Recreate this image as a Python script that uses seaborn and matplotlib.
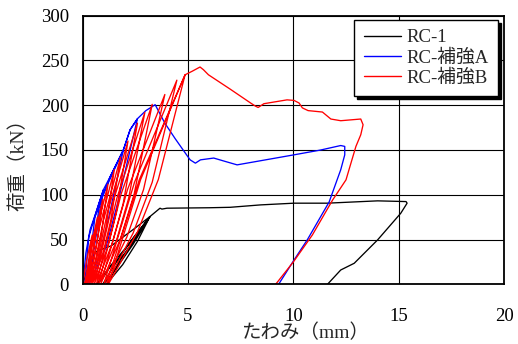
import matplotlib
matplotlib.use("Agg")
import matplotlib.pyplot as plt
import seaborn as sns
import pandas as pd

# ---- data ----
series_names = ["RC-1", "RC-補強A", "RC-補強B"]
series_colors = ["#000000", "#0000FF", "#FF0000"]

rc1_x = [0, 0.20, 0.45, 0.65, 1.00, 1.36, 1.84, 2.50, 3.19,
         2.60, 2.00, 1.36, 0.90, 0.65,
         1.30, 2.20, 3.19, 2.40, 1.60, 1.10, 0.95,
         1.60, 2.40, 3.19, 2.60, 1.90, 1.30, 1.15,
         1.80, 2.60, 3.19, 3.67, 3.76, 4.00, 6.00, 7.00, 8.45, 10.03,
         11.60, 14.00, 15.35, 15.40, 15.10, 14.00, 12.89, 12.25, 11.62]
rc1_y = [0, 15, 30, 36.5, 40, 43, 51.5, 63, 75.6,
         55, 33, 21.6, 5, 0,
         20, 45, 75.6, 45, 18, 3, 0,
         25, 52, 75.6, 48, 22, 5, 0,
         28, 55, 75.6, 85, 84, 85, 85.5, 86, 88.7, 90.6,
         90.6, 93.2, 92.4, 90.6, 79.4, 49.6, 23.5, 16, 0]

rcA_x = [0, 0.03, 0.15, 0.35, 0.67, 0.98, 0.63, 0.41, 0.10,
         0.29, 0.67, 0.98, 1.30, 1.93, 1.24, 0.81, 0.20,
         0.58, 1.30, 1.93, 2.25, 2.60, 1.68, 1.10, 0.30,
         0.81, 1.93, 2.25, 2.60, 3.00, 3.44,
         3.90, 4.38, 4.93, 5.10, 5.35, 5.59, 6.22, 6.80, 7.33, 8.44,
         10.03, 11.30, 12.25, 12.44, 12.44, 12.25,
         11.70, 10.67, 10.03, 9.30]
rcA_y = [0, 5, 35, 61, 83, 105.5, 53, 23, 0,
         53, 83, 105.5, 120, 150, 75, 33, 0,
         75, 120, 150, 172.6, 185, 92.5, 41, 0,
         92.5, 150, 172.6, 185, 194, 200.6,
         180, 163, 144.6, 139, 135.3, 139, 141, 137, 133.4, 138,
         144.6, 150, 155, 154, 144.6, 128,
         92, 50, 27, 0]

rcB_x = [0,
         0.19, 0.45, 0.33, 0.23, 0.10,
         0.35, 0.70, 0.51, 0.36, 0.15,
         0.49, 0.95, 0.69, 0.50, 0.22,
         0.63, 1.20, 0.89, 0.64, 0.30,
         0.80, 1.50, 1.11, 0.81, 0.38,
         0.98, 1.80, 1.33, 0.97, 0.46,
         1.17, 2.15, 1.59, 1.16, 0.55,
         1.41, 2.60, 1.92, 1.39, 0.65,
         1.62, 2.95, 2.18, 1.59, 0.75,
         1.82, 3.30, 2.44, 1.78, 0.85,
         2.13, 3.90, 2.89, 2.10, 1.00,
         2.46, 4.47, 3.30, 2.39, 1.12,
         2.69, 4.86, 3.59, 2.60, 1.22,
         2.75, 4.86, 5.20, 5.57, 5.73, 5.97, 7.00, 7.97, 8.20, 8.33, 8.60,
         9.70, 10.03, 10.27, 10.43, 10.70, 11.38, 11.78, 12.25, 13.20,
         13.31, 13.20, 12.97, 12.73, 12.50, 11.86, 10.90, 10.00, 9.16]
rcB_y = [0,
         27.5, 55, 27.5, 14, 0,
         37.5, 75, 37.5, 19, 0,
         47.5, 95, 47.5, 24, 0,
         56, 112, 56, 28, 0,
         64, 128, 64, 32, 0,
         71, 142, 71, 35.5, 0,
         80, 160, 80, 40, 0,
         90, 180, 90, 45, 0,
         96, 192, 96, 48, 0,
         100.5, 201, 100.5, 50, 0,
         106, 212, 106, 53, 0,
         114, 228, 114, 57, 0,
         117, 234, 117, 58.5, 0,
         117, 234, 238, 242.7, 239.7, 234, 218, 202.5, 199, 197.5, 201.7,
         206, 205.4, 202.5, 197, 194, 192.4, 184.6, 182.7, 184.6,
         178.2, 167, 154, 135, 116.7, 94, 55, 25, 0]

x_ticks = [0, 5, 10, 15, 20]
y_ticks = [0, 50, 100, 150, 200, 250, 300]
x_label = "たわみ（mm）"
y_label = "荷重（kN）"

# ---- build table ----
frames = []
for name, xs, ys in zip(series_names, [rc1_x, rcA_x, rcB_x], [rc1_y, rcA_y, rcB_y]):
    frames.append(pd.DataFrame({"x": xs, "y": ys, "series": name,
                                "order": range(len(xs))}))
df = pd.concat(frames, ignore_index=True)

sns.set_style("white")
plt.rcParams["font.family"] = ["Liberation Serif", "Noto Sans CJK JP"]

fig = plt.figure(figsize=(5.18, 3.44), dpi=100)
ax = fig.add_axes([82.7 / 518, 1 - 284.3 / 344, (504 - 82.7) / 518, (284.3 - 15.7) / 344])

sns.lineplot(data=df, x="x", y="y", hue="series", hue_order=series_names,
             palette=series_colors, sort=False, estimator=None,
             linewidth=0.95, ax=ax)

ax.set_xlim(0, 20)
ax.set_ylim(0, 300)
ax.set_xticks(x_ticks)
ax.set_yticks(y_ticks)
ax.grid(True, color="black", linewidth=0.8)
ax.set_axisbelow(True)
for s in ax.spines.values():
    s.set_color("black")
    s.set_linewidth(1.3)
ax.tick_params(axis="both", length=0, labelsize=13.5, colors="black")
ax.tick_params(axis="x", pad=17)
ax.tick_params(axis="y", pad=10)

ax.set_xlabel(x_label, fontsize=14, va="center")
ax.xaxis.set_label_coords((305 - 82.7) / 421.3, (284.3 - 333) / 268.6)
ax.set_ylabel(y_label, fontsize=14, va="center")
ax.yaxis.set_label_coords((18 - 82.7) / 421.3, (284.3 - 160) / 268.6)

leg = ax.legend(loc="upper right", bbox_to_anchor=(0.9865, 0.984), borderaxespad=0,
                frameon=True, fancybox=False, edgecolor="black", framealpha=1,
                shadow={"color": "black", "alpha": 1}, fontsize=13.5,
                handlelength=2.0, handletextpad=0.3, borderpad=0.5,
                labelspacing=0.15, title=None)
leg.get_frame().set_linewidth(1.0)
for line in leg.get_lines():
    line.set_linewidth(1.0)

fig.savefig("out.png", dpi=100)
